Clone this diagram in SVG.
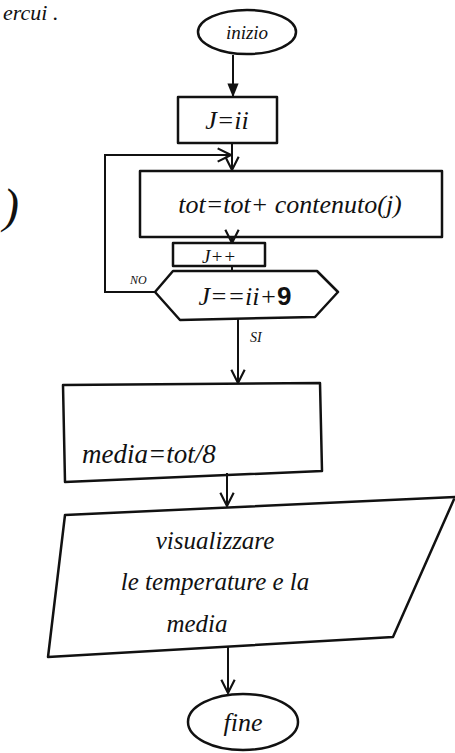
<svg xmlns="http://www.w3.org/2000/svg" width="455" height="753" viewBox="0 0 455 753">
<style>
.s{fill:none;stroke:#111;stroke-width:2.5;stroke-linejoin:round;stroke-linecap:round}
.c{fill:none;stroke:#111;stroke-width:2}
.t{font-family:"Liberation Serif",serif;font-style:italic;fill:#111}
</style>
<defs>
<marker id="af" viewBox="0 0 10 10" refX="9" refY="5" markerWidth="7" markerHeight="7" orient="auto"><path d="M0,1 L10,5 L0,9 Z" fill="#111"/></marker>
<marker id="ao" viewBox="0 0 12 12" refX="11" refY="6" markerWidth="8" markerHeight="8" orient="auto"><path d="M1,1 L11,6 L1,11" fill="none" stroke="#111" stroke-width="1.6"/></marker>
</defs>
<rect width="455" height="753" fill="#fff"/>
<text class="t" x="3" y="20" font-size="22">ercui .</text>
<text class="t" x="3" y="222" font-size="48">)</text>
<g id="inizio"><ellipse class="s" cx="247" cy="32" rx="49" ry="22"/><text class="t" x="247" y="39" font-size="19" text-anchor="middle">inizio</text></g>
<g id="jii"><rect class="s" x="178" y="97" width="99" height="46"/><text class="t" x="227" y="129" font-size="26" text-anchor="middle">J=ii</text></g>
<g id="tot"><rect class="s" x="140" y="171" width="302" height="66"/><text class="t" x="290" y="213" font-size="26" text-anchor="middle">tot=tot+ contenuto(j)</text></g>
<g id="jpp"><rect class="s" x="173" y="243" width="92" height="23"/><text class="t" x="219" y="263" font-size="19" text-anchor="middle">J++</text></g>
<g id="cond"><path class="s" d="M155,292 L173,271 L317,271 L338,292 L315,317 L180,320 Z"/><text class="t" x="245" y="305" font-size="26" text-anchor="middle">J==ii+<tspan font-weight="bold" font-style="normal" font-family="Liberation Sans,sans-serif">9</tspan></text></g>
<g id="media"><path class="s" d="M63,385 L320,383 L322,471 L65,482 Z"/><text class="t" x="82" y="463" font-size="27">media=tot/8</text></g>
<g id="vis"><path class="s" d="M65,515 L455,497 L393,637 L48,657 Z"/><text class="t" font-size="25" text-anchor="middle"><tspan x="215" y="549">visualizzare</tspan><tspan x="215" y="590">le temperature e la</tspan><tspan x="197" y="632">media</tspan></text></g>
<g id="fine"><ellipse class="s" cx="243" cy="722" rx="55" ry="28"/><text class="t" x="243" y="731" font-size="26" text-anchor="middle">fine</text></g>
<g id="connectors">
<line class="c" x1="233" y1="55" x2="233" y2="96" stroke-width="3" marker-end="url(#af)"/>
<line class="c" x1="232" y1="143" x2="232" y2="170" marker-end="url(#ao)"/>
<polyline class="c" points="155,292 105,292 105,155 231,155" marker-end="url(#ao)"/>
<line class="c" x1="232" y1="237" x2="232" y2="243" marker-end="url(#ao)"/>
<line class="c" x1="232" y1="266" x2="232" y2="271"/>
<line class="c" x1="238" y1="319" x2="238" y2="383" marker-end="url(#ao)"/>
<line class="c" x1="227" y1="473" x2="227" y2="506" marker-end="url(#ao)"/>
<line class="c" x1="228" y1="646" x2="228" y2="693" marker-end="url(#ao)"/>
<text class="t" x="130" y="284" font-size="12">NO</text>
<text class="t" x="250" y="342" font-size="14">SI</text>
</g>
</svg>
